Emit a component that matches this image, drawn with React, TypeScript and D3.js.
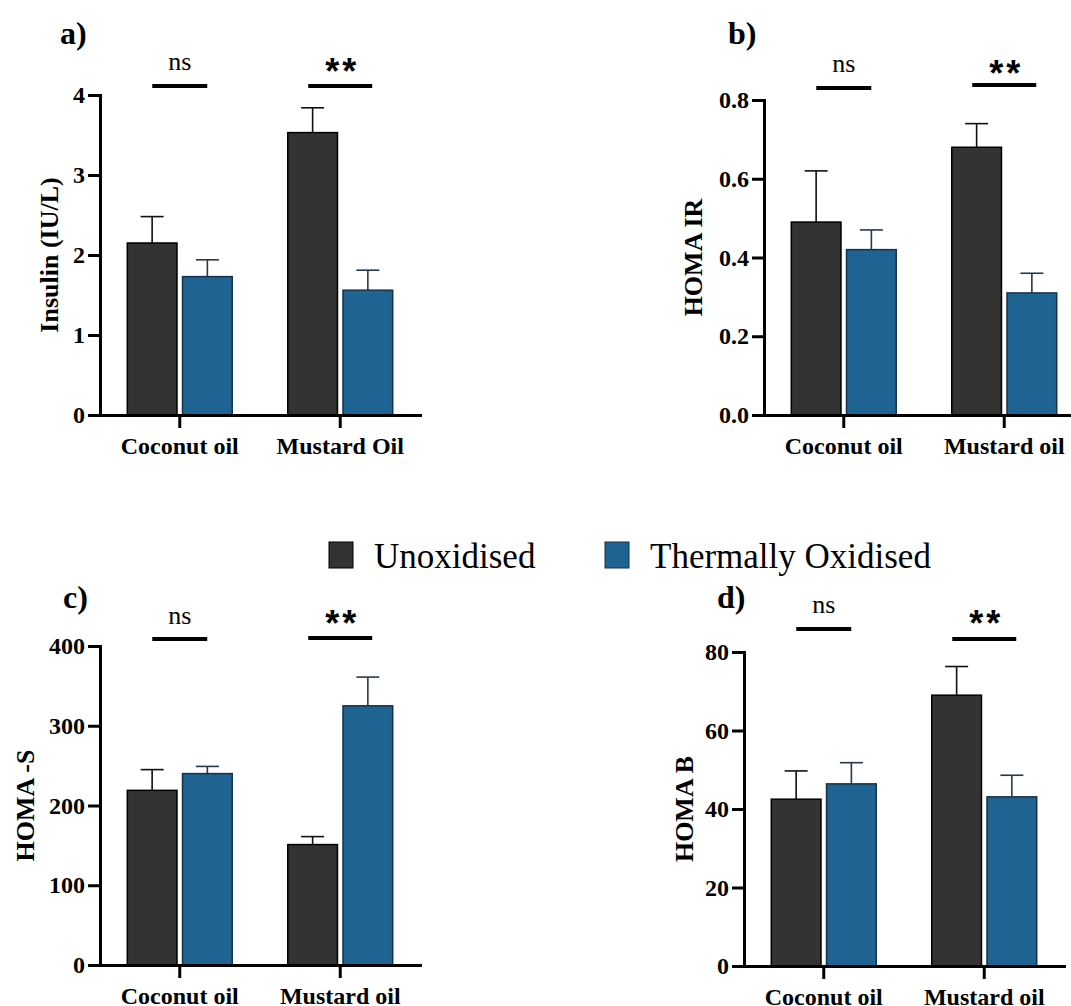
import React, { useRef, useEffect } from 'react';
import * as d3 from 'd3';

// groups and series
const series = ["Unoxidised", "Thermally Oxidised"];
const seriesColors = ["#333333", "#1f6392"];
const seriesStroke = ["#000000", "#15324a"];
const sigLabels = ["ns", "**"];

// a) insulin
const insulinCats = ["Coconut oil", "Mustard Oil"];
const insulinUnox = [2.15, 3.53];
const insulinUnoxErr = [0.33, 0.31];
const insulinOx = [1.73, 1.56];
const insulinOxErr = [0.21, 0.25];
const insulinTicks = [0, 1, 2, 3, 4];

// b) HOMA IR
const homaIrCats = ["Coconut oil", "Mustard oil"];
const homaIrUnox = [0.49, 0.68];
const homaIrUnoxErr = [0.13, 0.06];
const homaIrOx = [0.42, 0.31];
const homaIrOxErr = [0.05, 0.05];
const homaIrTicks = [0, 0.2, 0.4, 0.6, 0.8];

// c) HOMA -S
const homaSCats = ["Coconut oil", "Mustard oil"];
const homaSUnox = [219, 151];
const homaSUnoxErr = [26, 10];
const homaSOx = [240, 325];
const homaSOxErr = [9, 36];
const homaSTicks = [0, 100, 200, 300, 400];

// d) HOMA B
const homaBCats = ["Coconut oil", "Mustard oil"];
const homaBUnox = [42.5, 69.0];
const homaBUnoxErr = [7.2, 7.3];
const homaBOx = [46.4, 43.1];
const homaBOxErr = [5.4, 5.5];
const homaBTicks = [0, 20, 40, 60, 80];

const panels = [
    {
        label: "a)", title: "Insulin (IU/L)", cats: insulinCats,
        vals: [insulinUnox, insulinOx], errs: [insulinUnoxErr, insulinOxErr],
        ticks: insulinTicks, fmt: d3.format("d"),
        left: 100, top: 95, bottom: 415, labelPos: [60, 44], titleX: 49,
        sigLine: [86, 86], sigText: [70, 65],
    },
    {
        label: "b)", title: "HOMA IR", cats: homaIrCats,
        vals: [homaIrUnox, homaIrOx], errs: [homaIrUnoxErr, homaIrOxErr],
        ticks: homaIrTicks, fmt: d3.format(".1f"),
        left: 764, top: 100, bottom: 415, labelPos: [728, 44], titleX: 693,
        sigLine: [88, 85], sigText: [72, 67],
    },
    {
        label: "c)", title: "HOMA -S", cats: homaSCats,
        vals: [homaSUnox, homaSOx], errs: [homaSUnoxErr, homaSOxErr],
        ticks: homaSTicks, fmt: d3.format("d"),
        left: 100, top: 646, bottom: 965, labelPos: [63, 608], titleX: 25,
        sigLine: [639, 638], sigText: [624, 617],
    },
    {
        label: "d)", title: "HOMA B", cats: homaBCats,
        vals: [homaBUnox, homaBOx], errs: [homaBUnoxErr, homaBOxErr],
        ticks: homaBTicks, fmt: d3.format("d"),
        left: 744, top: 652, bottom: 966, labelPos: [717, 608], titleX: 684,
        sigLine: [629, 639], sigText: [613, 617],
    },
];

const serif = "'Liberation Serif', 'Times New Roman', serif";

const App = () => {
    const svgRef = useRef(null);

    useEffect(() => {
        const svg = d3.select(svgRef.current);
        svg.selectAll("*").remove();

        panels.forEach((p) => {
            const g = svg.append("g").style("font-family", serif);

            const x = d3.scaleBand()
                .domain(p.cats)
                .range([p.left, p.left + 320])
                .paddingInner(0.346)
                .paddingOuter(0.17);

            const xs = d3.scaleBand()
                .domain(series)
                .range([0, x.bandwidth()])
                .paddingInner(0.1);

            const y = d3.scaleLinear()
                .domain([0, d3.max(p.ticks)])
                .range([p.bottom, p.top]);

            // bars + error bars (upper only)
            series.forEach((s, si) => {
                p.cats.forEach((c, ci) => {
                    const v = p.vals[si][ci];
                    const e = p.errs[si][ci];
                    const bx = x(c) + xs(s);
                    const cx = bx + xs.bandwidth() / 2;
                    const errColor = si === 0 ? "#111" : "#243a4c";
                    g.append("line")
                        .attr("x1", cx).attr("x2", cx)
                        .attr("y1", y(v)).attr("y2", y(v + e))
                        .attr("stroke", errColor)
                        .attr("stroke-width", 1.6);
                    g.append("line")
                        .attr("x1", cx - 11.5).attr("x2", cx + 11.5)
                        .attr("y1", y(v + e)).attr("y2", y(v + e))
                        .attr("stroke", errColor)
                        .attr("stroke-width", 1.6);
                    g.append("rect")
                        .attr("x", bx)
                        .attr("y", y(v))
                        .attr("width", xs.bandwidth())
                        .attr("height", y(0) - y(v))
                        .attr("fill", seriesColors[si])
                        .attr("stroke", seriesStroke[si])
                        .attr("stroke-width", 1.5);
                });
            });

            // y axis
            const ya = g.append("g")
                .attr("transform", `translate(${p.left},0)`)
                .call(d3.axisLeft(y).tickValues(p.ticks).tickFormat(p.fmt)
                    .tickSize(12).tickSizeOuter(0).tickPadding(3));
            ya.select(".domain").attr("stroke-width", 3).attr("stroke-linecap", "square");
            ya.selectAll(".tick line").attr("stroke-width", 3);
            ya.selectAll("text")
                .style("font-family", serif)
                .style("font-weight", "bold")
                .style("font-size", "24px")
                .attr("fill", "#000");

            // x axis
            const xa = g.append("g")
                .attr("transform", `translate(0,${p.bottom})`)
                .call(d3.axisBottom(x).tickSize(13).tickSizeOuter(0).tickPadding(9));
            xa.select(".domain").attr("stroke-width", 3).attr("stroke-linecap", "square");
            xa.selectAll(".tick line").attr("stroke-width", 3);
            xa.selectAll("text")
                .style("font-family", serif)
                .style("font-weight", "bold")
                .style("font-size", "24px")
                .attr("fill", "#000");

            // y title
            g.append("text")
                .attr("transform", `translate(${p.titleX},${(p.top + p.bottom) / 2}) rotate(-90)`)
                .attr("text-anchor", "middle")
                .attr("dy", "0.35em")
                .style("font-weight", "bold")
                .style("font-size", "26px")
                .text(p.title);

            // panel label
            g.append("text")
                .attr("x", p.labelPos[0])
                .attr("y", p.labelPos[1])
                .style("font-weight", "bold")
                .style("font-size", "32px")
                .text(p.label);

            // significance bars
            p.cats.forEach((c, ci) => {
                const cx = x(c) + x.bandwidth() / 2;
                const half = ci === 0 ? 27.5 : 32;
                g.append("line")
                    .attr("x1", cx - half).attr("x2", cx + half)
                    .attr("y1", p.sigLine[ci]).attr("y2", p.sigLine[ci])
                    .attr("stroke", "#000")
                    .attr("stroke-width", 4);
                if (ci === 0) {
                    g.append("text")
                        .attr("x", cx)
                        .attr("y", p.sigText[ci])
                        .attr("text-anchor", "middle")
                        .style("font-size", "26px")
                        .text(sigLabels[ci]);
                } else {
                    g.append("text")
                        .attr("x", cx + 2)
                        .attr("y", p.sigText[ci] + 19)
                        .attr("text-anchor", "middle")
                        .style("font-family", "'Liberation Sans', Arial, sans-serif")
                        .style("font-weight", "bold")
                        .style("font-size", "36px")
                        .style("letter-spacing", "3px")
                        .text(sigLabels[ci]);
                }
            });
        });

        // legend
        const legendX = [329, 605];
        const lg = svg.append("g").style("font-family", serif);
        series.forEach((s, i) => {
            lg.append("rect")
                .attr("x", legendX[i]).attr("y", 542)
                .attr("width", 24).attr("height", 26)
                .attr("fill", seriesColors[i])
                .attr("stroke", seriesStroke[i])
                .attr("stroke-width", 1);
            lg.append("text")
                .attr("x", legendX[i] + 45)
                .attr("y", 568)
                .style("font-size", "35px")
                .text(s);
        });
    }, []);

    return (
        <svg
            ref={svgRef}
            width={1071}
            height={1006}
            style={{ position: 'absolute', left: 0, top: 0, background: '#fff', display: 'block' }}
        />
    );
};

export default App;
